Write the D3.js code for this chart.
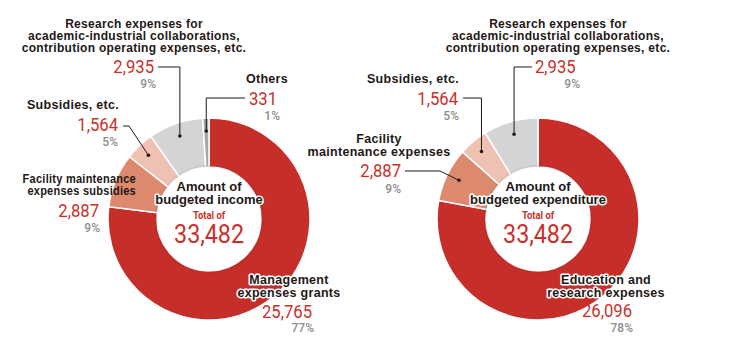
<!DOCTYPE html>
<html>
<head>
<meta charset="utf-8">
<script src="https://cdn.jsdelivr.net/npm/d3@7"></script>
<style>
  body { margin: 0; background: #fff; }
  svg { display: block; }
  .name { font-family: "Liberation Sans", Arial, sans-serif; font-weight: 700; font-size: 12.5px; letter-spacing: 0.3px; fill: #231815; }
  .name.small { font-size: 12px; }
  .title { font-family: "Liberation Sans", Arial, sans-serif; font-weight: 700; font-size: 13px; fill: #231815; }
  .halo { paint-order: stroke; stroke: #fff; stroke-width: 3px; stroke-linejoin: round; }
  .val { font-family: Roboto, sans-serif; font-size: 18.5px; fill: #c8312b; }
  .pct { font-family: Roboto, sans-serif; font-weight: 500; font-size: 12px; fill: #8c8c8c; }
  .total-lbl { font-family: Roboto, sans-serif; font-weight: 700; font-size: 10.5px; fill: #c8312b; }
  .total { font-family: Roboto, sans-serif; font-size: 25px; fill: #c8312b; }
</style>
</head>
<body>
<script>
// CHART DATA

// Budgeted income (left donut), clockwise from 12 o'clock
const incomeNames = [
  ["Management", "expenses grants"],
  ["Facility maintenance", "expenses subsidies"],
  ["Subsidies, etc."],
  ["Research expenses for", "academic-industrial collaborations,", "contribution operating expenses, etc."],
  ["Others"]
];
const incomeValues = [25765, 2887, 1564, 2935, 331];

// Budgeted expenditure (right donut), clockwise from 12 o'clock
const expenditureNames = [
  ["Education and", "research expenses"],
  ["Facility", "maintenance expenses"],
  ["Subsidies, etc."],
  ["Research expenses for", "academic-industrial collaborations,", "contribution operating expenses, etc."]
];
const expenditureValues = [26096, 2887, 1564, 2935];

const centerTitles = [["Amount of", "budgeted income"], ["Amount of", "budgeted expenditure"]];
const totalLabel = "Total of";

// Styles
const width = 730;
const height = 346;
const sliceColors = ["#c62e2a", "#dc896e", "#eec1b2", "#d4d4d4", "#a8a8a8"];
const outerR = 101;
const innerR = 52;
const dotR = 88;

// Label placement (layout only)
const incomeLayout = [
  {nx: 289, ny: [284, 297], na: "middle", halo: true, vx: 312, vy: 318, px: 314, py: 332},
  {nx: 136, ny: [183, 195], na: "end", sx: 0.88, vx: 99, vy: 217, px: 100, py: 232},
  {nx: 119, ny: [109], na: "end", vx: 118, vy: 131, px: 118, py: 146, leader: {x: 123, y: 126, elbow: 129, type: "diag"}},
  {nx: 134, ny: [28, 40, 52], na: "middle", small: true, vx: 154, vy: 73, px: 156, py: 88, leader: {x: 158, y: 67, type: "vert"}},
  {nx: 288, ny: [83], na: "end", vx: 277, vy: 105, px: 280, py: 120, leader: {x: 245, y: 98, type: "vert"}}
];
const expenditureLayout = [
  {nx: 606, ny: [284, 297], na: "middle", halo: true, vx: 632, vy: 317, px: 633, py: 332},
  {nx: 379, ny: [143, 156], na: "middle", vx: 401, vy: 177, px: 401, py: 193, leader: {x: 405, y: 171, elbow: 440, type: "diag"}},
  {nx: 459, ny: [83], na: "end", vx: 458, vy: 105, px: 459, py: 120, leader: {x: 463, y: 98, type: "vert"}},
  {nx: 558, ny: [28, 40, 52], na: "middle", small: true, va: "start", vx: 535, vy: 73, px: 580, py: 88, leader: {x: 532, y: 67, type: "vert"}}
];

const charts = [
  {cx: 209, cy: 219, names: incomeNames, values: incomeValues, title: centerTitles[0], layout: incomeLayout},
  {cx: 538, cy: 219, names: expenditureNames, values: expenditureValues, title: centerTitles[1], layout: expenditureLayout}
];

// SVG
const svg = d3.select("body")
  .append("svg")
  .attr("width", width)
  .attr("height", height);

const defs = svg.append("defs");
defs.append("filter")
  .attr("id", "shadow")
  .attr("x", "-20%").attr("y", "-20%").attr("width", "140%").attr("height", "140%")
  .append("feDropShadow")
  .attr("dx", 0).attr("dy", 0)
  .attr("stdDeviation", 1.6)
  .attr("flood-color", "#000")
  .attr("flood-opacity", 0.35);

const pie = d3.pie().sort(null).value(d => d);
const arc = d3.arc().innerRadius(innerR).outerRadius(outerR);
const dotArc = d3.arc().innerRadius(dotR).outerRadius(dotR);
const fmt = d3.format(",");

// text with horizontal squeeze (condensed look)
function squeezed(parent, x, y, str, cls, anchor, sx) {
  return parent.append("text")
    .attr("class", cls)
    .attr("text-anchor", anchor)
    .attr("transform", `translate(${x},${y}) scale(${sx},1)`)
    .text(str);
}

function render(c) {
  const total = d3.sum(c.values);
  const arcs = pie(c.values);

  const g = svg.append("g")
    .attr("transform", `translate(${c.cx},${c.cy})`);

  // slices
  g.selectAll("path.slice")
    .data(arcs)
    .join("path")
    .classed("slice", true)
    .attr("d", arc)
    .attr("fill", (d, i) => sliceColors[i])
    .attr("stroke", "#fff")
    .attr("stroke-width", 1.5);

  // center disc
  g.append("circle")
    .attr("r", innerR)
    .attr("fill", "#fff")
    .attr("filter", "url(#shadow)");

  g.selectAll("text.title")
    .data(c.title)
    .join("text")
    .attr("class", "title halo")
    .attr("text-anchor", "middle")
    .attr("x", 0)
    .attr("y", (d, i) => -28 + i * 12.5)
    .text(d => d);

  squeezed(g, 0, -0.5, totalLabel, "total-lbl", "middle", 0.9);
  squeezed(g, 0, 24, fmt(total), "total", "middle", 0.93);

  // leader lines + dots
  const lg = svg.append("g");
  arcs.forEach((a, i) => {
    const L = c.layout[i].leader;
    if (!L) return;
    const [dx, dy] = dotArc.centroid(a);
    const px = c.cx + dx, py = c.cy + dy;
    const p = d3.path();
    p.moveTo(L.x, L.y);
    if (L.type === "vert") {
      p.lineTo(px, L.y);
    } else {
      p.lineTo(L.elbow, L.y);
    }
    p.lineTo(px, py);
    lg.append("path")
      .attr("d", p.toString())
      .attr("fill", "none")
      .attr("stroke", "#231815")
      .attr("stroke-width", 1);
    lg.append("circle")
      .attr("cx", px).attr("cy", py)
      .attr("r", 1.8)
      .attr("fill", "#231815");
  });

  // labels
  const tg = svg.append("g");
  arcs.forEach((a, i) => {
    const L = c.layout[i];
    const cls = "name" + (L.halo ? " halo" : "") + (L.small ? " small" : "");
    c.names[i].forEach((line, j) => {
      tg.append("text")
        .attr("class", cls)
        .attr("text-anchor", L.na)
        .attr("transform", `translate(${L.nx},${L.ny[j]}) scale(${L.sx || 1},1)`)
        .text(line);
    });
    squeezed(tg, L.vx, L.vy, fmt(c.values[i]), "val", L.va || "end", 0.9);
    tg.append("text")
      .attr("class", "pct")
      .attr("text-anchor", "end")
      .attr("x", L.px)
      .attr("y", L.py)
      .text(Math.round(c.values[i] / total * 100) + "%");
  });
}

charts.forEach(render);
</script>
</body>
</html>
